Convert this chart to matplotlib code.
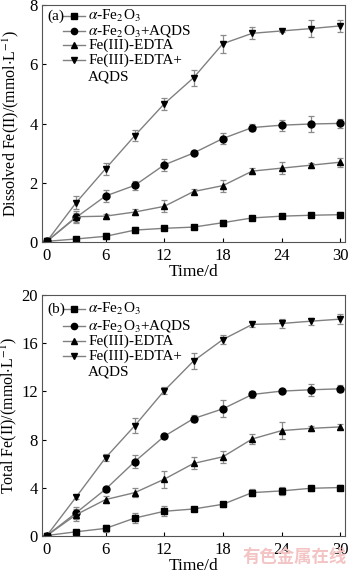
import numpy as np
import matplotlib
matplotlib.use('Agg')
from matplotlib import pyplot as plt
from matplotlib import transforms

plt.rcParams['font.family'] = ['Liberation Serif', 'DejaVu Serif']
plt.rcParams['mathtext.fontset'] = 'stix'

days = [0, 3, 6, 9, 12, 15, 18, 21, 24, 27, 30]
labels = [r'$\alpha$-Fe$_2$O$_3$', r'$\alpha$-Fe$_2$O$_3$+AQDS',
          'Fe(III)-EDTA', 'Fe(III)-EDTA+\nAQDS']
markers = ['s', 'o', '^', 'v']

# (a) dissolved Fe(II)
diss_fe2o3 = [0.03, 0.11, 0.2, 0.41, 0.47, 0.51, 0.66, 0.82, 0.88, 0.91, 0.93]
diss_fe2o3_err = [0.02, 0.04, 0.1, 0.1, 0.05, 0.08, 0.1, 0.08, 0.05, 0.05, 0.08]
diss_fe2o3_aqds = [0.03, 0.84, 1.56, 1.92, 2.61, 3.01, 3.5, 3.87, 3.95, 3.99, 4.01]
diss_fe2o3_aqds_err = [0.02, 0.15, 0.2, 0.15, 0.2, 0.08, 0.18, 0.13, 0.18, 0.28, 0.15]
diss_edta = [0.03, 0.86, 0.88, 1.02, 1.21, 1.71, 1.91, 2.4, 2.5, 2.6, 2.7]
diss_edta_err = [0.02, 0.2, 0.08, 0.1, 0.2, 0.08, 0.2, 0.1, 0.2, 0.08, 0.15]
diss_edta_aqds = [0.03, 1.34, 2.48, 3.6, 4.67, 5.55, 6.7, 7.05, 7.13, 7.21, 7.3]
diss_edta_aqds_err = [0.02, 0.22, 0.2, 0.2, 0.2, 0.27, 0.3, 0.2, 0.05, 0.3, 0.2]

# (b) total Fe(II)
tot_fe2o3 = [0.05, 0.36, 0.64, 1.5, 2.06, 2.25, 2.64, 3.61, 3.75, 3.97, 4.03]
tot_fe2o3_err = [0.05, 0.1, 0.3, 0.4, 0.4, 0.15, 0.2, 0.3, 0.3, 0.2, 0.2]
tot_fe2o3_aqds = [0.05, 1.94, 3.89, 6.19, 8.28, 9.75, 10.56, 11.75, 12.03, 12.14, 12.22]
tot_fe2o3_aqds_err = [0.05, 0.5, 0.2, 0.5, 0.15, 0.3, 0.7, 0.3, 0.15, 0.5, 0.3]
tot_edta = [0.05, 1.78, 3.03, 3.61, 4.72, 6.03, 6.58, 8.06, 8.75, 8.94, 9.06]
tot_edta_err = [0.05, 0.5, 0.3, 0.4, 0.7, 0.5, 0.5, 0.4, 0.7, 0.2, 0.2]
tot_edta_aqds = [0.05, 3.25, 6.5, 9.17, 12.06, 14.53, 16.31, 17.56, 17.64, 17.83, 18.0]
tot_edta_aqds_err = [0.05, 0.2, 0.3, 0.6, 0.3, 0.7, 0.4, 0.2, 0.4, 0.3, 0.4]

panel_a = [(diss_fe2o3, diss_fe2o3_err), (diss_fe2o3_aqds, diss_fe2o3_aqds_err),
           (diss_edta, diss_edta_err), (diss_edta_aqds, diss_edta_aqds_err)]
panel_b = [(tot_fe2o3, tot_fe2o3_err), (tot_fe2o3_aqds, tot_fe2o3_aqds_err),
           (tot_edta, tot_edta_err), (tot_edta_aqds, tot_edta_aqds_err)]

LINE = '#808080'
LEG_FS = 11

fig = plt.figure(figsize=(3.5, 5.74), dpi=100)
ax1 = fig.add_axes([0.12, 0.578, 0.866, 0.413])
ax2 = fig.add_axes([0.12, 0.066, 0.866, 0.42])


def legend_rows(ax, tag, rows_px):
    # hand made legend, rows placed in pixels below the axes top
    off = lambda dy: transforms.offset_copy(ax.transAxes, fig=fig, x=0, y=-dy, units='dots')
    ax.text(0.018, 1.0, tag, transform=off(rows_px[0]), fontsize=LEG_FS,
            va='center', ha='left')
    for i, (m, lab) in enumerate(zip(markers, labels)):
        tr = off(rows_px[i])
        ax.plot([0.069, 0.142], [1.0, 1.0], transform=tr, color=LINE, lw=1.0,
                clip_on=False)
        ax.plot([0.106], [1.0], transform=tr, marker=m, ms=4.5, color='black',
                clip_on=False)
        first, *rest = lab.split('\n')
        ax.text(0.152, 1.0, first, transform=tr, fontsize=LEG_FS, va='center', ha='left')
        if rest:
            ax.text(0.152, 1.0, rest[0], transform=off(rows_px[i + 1]),
                    fontsize=LEG_FS, va='center', ha='left')


def draw(ax, series, ymax, yticks, ylabel, tag, rows_px, label_x):
    for (vals, errs), m in zip(series, markers):
        ax.errorbar(days, vals, yerr=errs, color=LINE, lw=1.0,
                    ecolor='#8a8a8a', elinewidth=0.9, capsize=2.3, capthick=0.9,
                    marker=m, ms=5, mfc='black', mec='black')
    ax.set_xlim(-0.5, 30.5)
    ax.set_ylim(0, ymax)
    ax.set_xticks([0, 6, 12, 18, 24, 30])
    ax.set_yticks(yticks)
    ax.tick_params(direction='in', labelsize=12, length=3)
    ax.tick_params(axis='x', pad=4)
    ax.tick_params(axis='y', pad=3)
    ax.set_xlabel('Time/d', fontsize=12.5, labelpad=0)
    ax.set_ylabel(ylabel, fontsize=11.5)
    ax.yaxis.set_label_coords(label_x, 0.5)
    for s in ax.spines.values():
        s.set_color('#555555')
    legend_rows(ax, tag, rows_px)


draw(ax1, panel_a, 8, [0, 2, 4, 6, 8], r'Dissolved Fe(II)/(mmol$\cdot$L$^{-1}$)', '(a)',
     [11, 26, 40, 55, 72], -0.07)
draw(ax2, panel_b, 20, [0, 4, 8, 12, 16, 20], r'Total Fe(II)/(mmol$\cdot$L$^{-1}$)', '(b)',
     [14, 31, 46, 61, 77], -0.077)

# watermark
fig.text(0.843, 0.03, '有色金属在线', family=['Noto Sans CJK SC'], fontsize=12.5,
         color='#f4c4c4', ha='center', va='center', weight='bold')

fig.savefig('out.png', dpi=100)
